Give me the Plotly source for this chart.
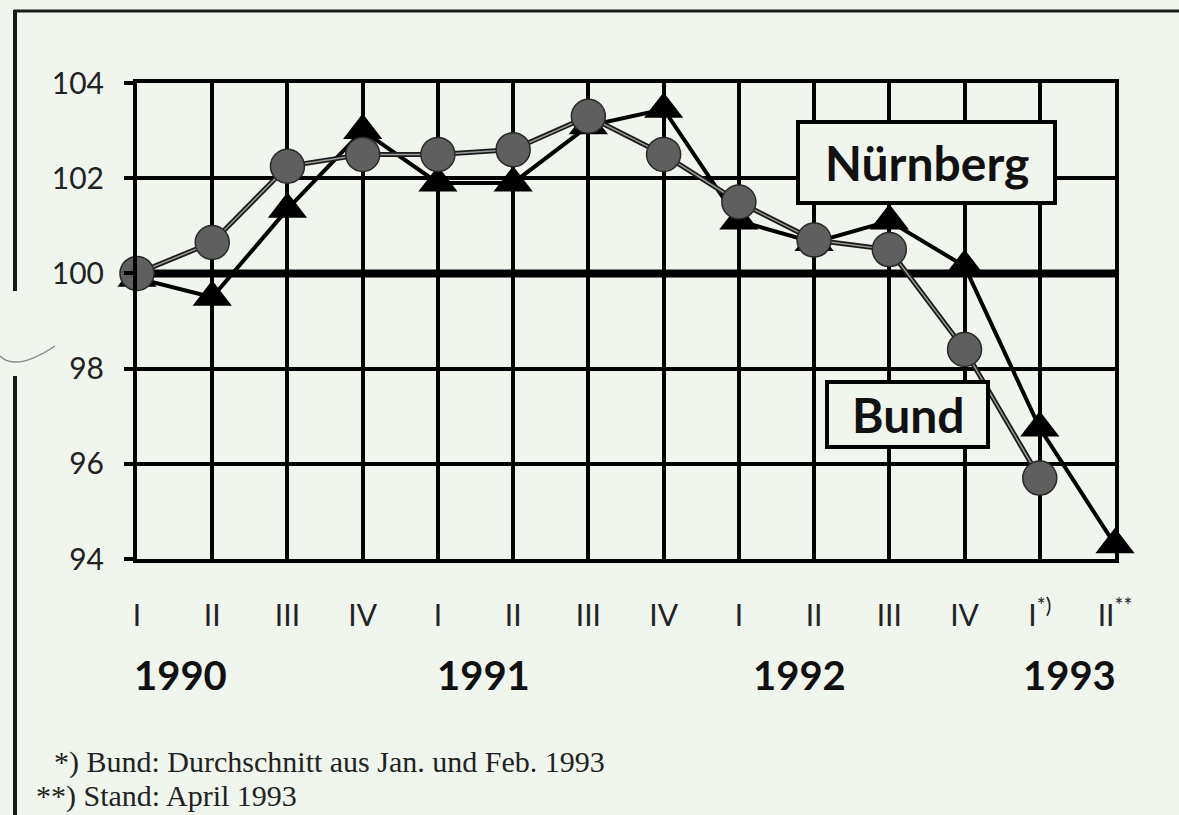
import plotly.graph_objects as go

# ---- data ----
quarters = ["I", "II", "III", "IV", "I", "II", "III", "IV", "I", "II", "III", "IV",
            "I<sup>*)</sup>", "II<sup>**</sup>"]
years = ["1990", "1991", "1992", "1993"]
year_pos = [0.58, 4.6, 8.8, 12.4]          # centre of year label on the quarter axis
nuernberg = [99.9, 99.5, 101.35, 103.0, 101.9, 101.9, 103.1, 103.45,
             101.1, 100.65, 101.1, 100.15, 96.75, 94.3]
bund = [100.0, 100.65, 102.25, 102.5, 102.5, 102.6, 103.3, 102.5,
        101.5, 100.7, 100.5, 98.4, 95.7]
y_ticks = [94, 96, 98, 100, 102, 104]
footnotes = ["*) Bund: Durchschnitt aus Jan. und Feb. 1993", "**) Stand: April 1993"]

BG = "#f0f5ee"
W, H = 1179, 815
L, R, T, B = 137, 1115, 83, 559


def px(x):
    return (x - L) / (R - L)


def py(y):
    return (B - y) / (B - T)


xs = list(range(len(quarters)))

fig = go.Figure()

# Nürnberg (triangles)
fig.add_trace(go.Scatter(
    x=xs[:len(nuernberg)], y=nuernberg, mode="lines+markers", cliponaxis=False,
    line=dict(color="black", width=4),
    marker=dict(symbol="triangle-up", size=34, color="black"),
    hoverinfo="skip"))
# Bund (circles) - double line effect
fig.add_trace(go.Scatter(
    x=xs[:len(bund)], y=bund, mode="lines", cliponaxis=False,
    line=dict(color="#1a1a1a", width=5), hoverinfo="skip"))
fig.add_trace(go.Scatter(
    x=xs[:len(bund)], y=bund, mode="lines+markers", cliponaxis=False,
    line=dict(color="#9a9a9a", width=1.5),
    marker=dict(symbol="circle", size=34, color="#5f5f5f",
                line=dict(color="#2a2a2a", width=1.5)),
    hoverinfo="skip"))

shapes = []
# thick 100 line
shapes.append(dict(type="line", xref="paper", yref="y", x0=px(128), x1=1.0, y0=100, y1=100,
                   line=dict(color="black", width=8), layer="below"))
# label boxes
shapes.append(dict(type="rect", xref="paper", yref="paper",
                   x0=px(798), x1=px(1055), y0=py(203), y1=py(122),
                   fillcolor=BG, line=dict(color="black", width=4), layer="above"))
shapes.append(dict(type="rect", xref="paper", yref="paper",
                   x0=px(827), x1=px(988), y0=py(447), y1=py(382),
                   fillcolor=BG, line=dict(color="black", width=4), layer="above"))
# page frame
shapes.append(dict(type="line", xref="paper", yref="paper", x0=px(14), x1=px(1179),
                   y0=py(11), y1=py(11), line=dict(color="#1a1a1a", width=3)))
shapes.append(dict(type="line", xref="paper", yref="paper", x0=px(15), x1=px(15),
                   y0=py(10), y1=py(291), line=dict(color="#1a1a1a", width=4)))
shapes.append(dict(type="line", xref="paper", yref="paper", x0=px(15), x1=px(15),
                   y0=py(376), y1=py(815), line=dict(color="#1a1a1a", width=4)))
shapes.append(dict(type="path", xref="paper", yref="paper",
                   path=f"M {px(0)},{py(356)} Q {px(16)},{py(372)} {px(55)},{py(346)}",
                   line=dict(color="#8a8a8a", width=1.5)))

annotations = []
annotations.append(dict(text="<b>Nürnberg</b>", xref="paper", yref="paper",
                        x=px(927), y=py(162), xanchor="center", yanchor="middle",
                        showarrow=False,
                        font=dict(family="Lato", size=48, color="#111")))
annotations.append(dict(text="<b>Bund</b>", xref="paper", yref="paper",
                        x=px(908), y=py(414), xanchor="center", yanchor="middle",
                        showarrow=False,
                        font=dict(family="Lato", size=48, color="#111")))
for yr, pos in zip(years, year_pos):
    annotations.append(dict(text=f"<b>{yr}</b>", xref="x", yref="paper",
                            x=pos, y=py(675), xanchor="center", yanchor="middle",
                            showarrow=False,
                            font=dict(family="Lato", size=40, color="#111")))
annotations.append(dict(text=footnotes[0], xref="paper", yref="paper",
                        x=px(52), y=py(762), xanchor="left", yanchor="middle",
                        showarrow=False,
                        font=dict(family="Liberation Serif", size=30, color="#222")))
annotations.append(dict(text=footnotes[1], xref="paper", yref="paper",
                        x=px(34), y=py(796), xanchor="left", yanchor="middle",
                        showarrow=False,
                        font=dict(family="Liberation Serif", size=30, color="#222")))

fig.update_layout(
    width=W, height=H,
    margin=dict(l=L, r=W - R, t=T, b=H - B, pad=0),
    paper_bgcolor=BG, plot_bgcolor=BG,
    showlegend=False,
    shapes=shapes, annotations=annotations,
    xaxis=dict(range=[0, len(quarters) - 1], tickmode="array", tickvals=xs, ticktext=quarters,
               showgrid=True, gridcolor="black", gridwidth=4, zeroline=False,
               showline=True, linecolor="black", linewidth=4, mirror=True,
               ticks="", ticklabelstandoff=27,
               tickfont=dict(family="Lato", size=30, color="#222")),
    yaxis=dict(range=[94, 104], tickmode="array", tickvals=y_ticks,
               showgrid=True, gridcolor="black", gridwidth=4, zeroline=False,
               showline=True, linecolor="black", linewidth=4, mirror=True,
               ticks="outside", ticklen=9, tickwidth=4, tickcolor="black",
               ticklabelstandoff=14,
               tickfont=dict(family="Lato", size=30, color="#222")),
)

fig.write_html("out.html", config={"displayModeBar": False},
               post_script="document.body.style.margin='0';"
                           "document.body.style.background='#f0f5ee';")
